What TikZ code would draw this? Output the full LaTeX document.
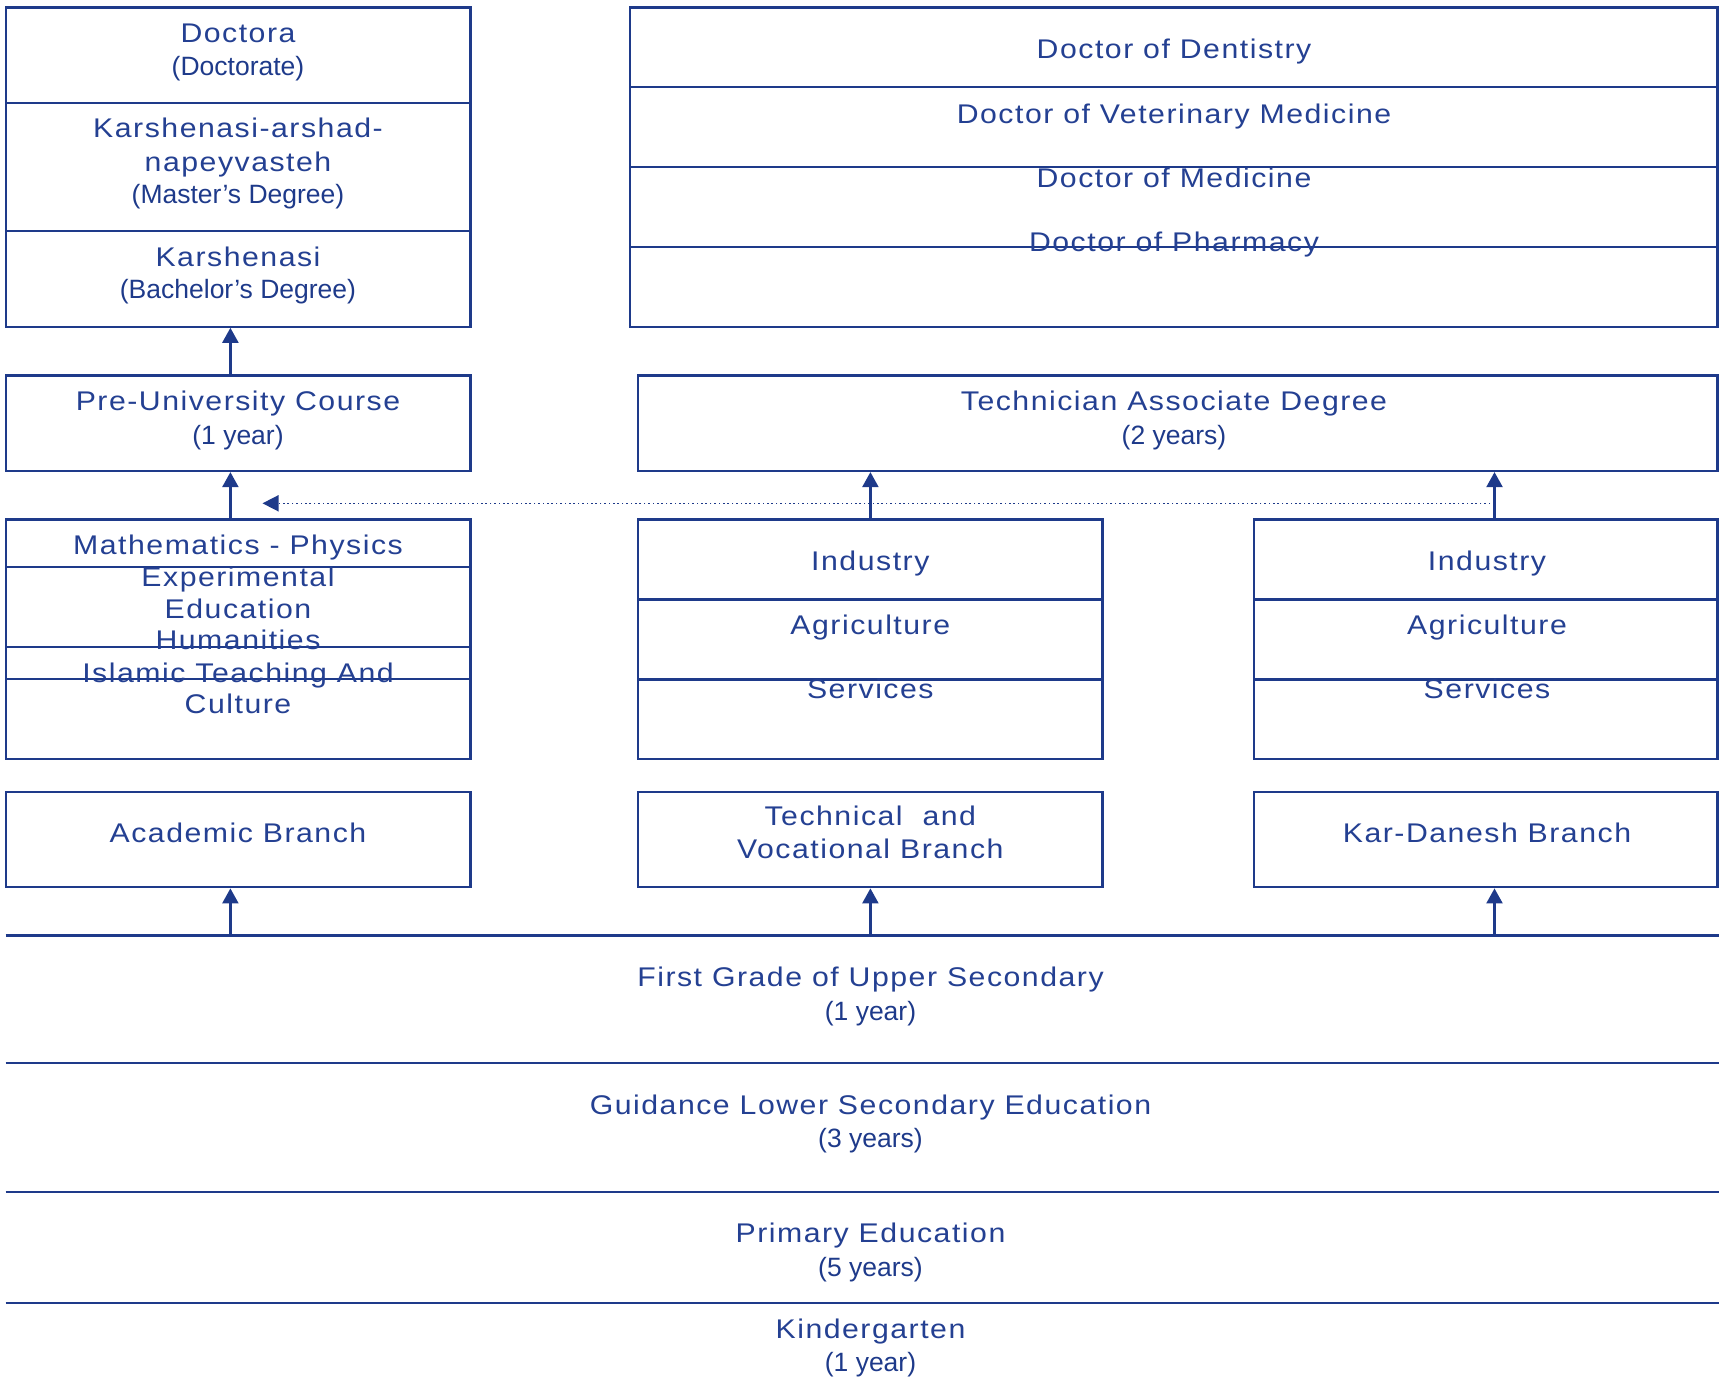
\documentclass[tikz,border=0pt]{standalone}
\usepackage{fontspec}
\setmainfont{Liberation Sans}
\newfontfamily\widefont{Liberation Sans}[FakeStretch=1.12,LetterSpace=5.6]
\usetikzlibrary{arrows.meta,fit}
\definecolor{navy}{RGB}{30,58,138}
\definecolor{navyt}{RGB}{36,64,146}
\tikzset{
  cell/.style={draw=navy, line width=1.1pt, inner sep=0pt},
  wl/.style={font=\widefont\fontsize{13.5}{16.5}\selectfont, text=navyt, inner sep=0pt, text height=9.67pt, text depth=0pt},
  pl/.style={font=\fontsize{13.25}{16.5}\selectfont, text=navy, inner sep=0pt, text height=9.5pt, text depth=0pt},
  arr/.style={draw=navy, line width=1.1pt, -{Triangle[width=8pt,length=7.5pt]}},
  dotarr/.style={draw=navy, line width=0.8pt, dash pattern=on 0.8pt off 1.4pt, -{Triangle[width=8pt,length=8pt]}},
  band/.style={draw=navy, line width=1.1pt}
}
\begin{document}
\begin{tikzpicture}[x=0.5pt,y=-0.5pt]
\useasboundingbox (0,0) rectangle (1719,1377);
% ---- cells ----
\node[cell, fit={(6,7.5) (470.5,103)}] (doc) {};
\node[cell, fit={(6,103) (470.5,231)}] (mas) {};
\node[cell, fit={(6,231) (470.5,326.7)}] (bach) {};
\node[cell, fit={(629.8,7.5) (1717.5,87.3)}] (dds) {};
\node[cell, fit={(629.8,87.3) (1717.5,167)}] (dvm) {};
\node[cell, fit={(629.8,167) (1717.5,247.3)}] (dmd) {};
\node[cell, fit={(629.8,247.3) (1717.5,327.3)}] (dph) {};
\node[cell, fit={(6,375.5) (470.5,471)}] (preu) {};
\node[cell, fit={(638,375.5) (1717.5,471)}] (tech) {};
\node[cell, fit={(6,519.5) (470.5,567.3)}] (ma1) {};
\node[cell, fit={(6,567.3) (470.5,647.3)}] (ma2) {};
\node[cell, fit={(6,647.3) (470.5,679.3)}] (ma3) {};
\node[cell, fit={(6,679.3) (470.5,759)}] (ma4) {};
\node[cell, fit={(638,519.5) (1102.5,599.5)}] (mg1) {};
\node[cell, fit={(638,599.5) (1102.5,679.5)}] (mg2) {};
\node[cell, fit={(638,679.5) (1102.5,759)}] (mg3) {};
\node[cell, fit={(1254,519.5) (1717.5,599.5)}] (rg1) {};
\node[cell, fit={(1254,599.5) (1717.5,679.5)}] (rg2) {};
\node[cell, fit={(1254,679.5) (1717.5,759)}] (rg3) {};
\node[cell, fit={(6,791.7) (470.5,887.3)}] (acad) {};
\node[cell, fit={(638,791.7) (1102.5,887.3)}] (tvb) {};
\node[cell, fit={(1254,791.7) (1717.5,887.3)}] (kdb) {};
% ---- level lines ----
\coordinate (L1a) at (5.7,935.5);  \coordinate (L1b) at (1719,935.5);
\coordinate (L2a) at (5.7,1063.3); \coordinate (L2b) at (1719,1063.3);
\coordinate (L3a) at (5.7,1191.7); \coordinate (L3b) at (1719,1191.7);
\coordinate (L4a) at (5.7,1303.3); \coordinate (L4b) at (1719,1303.3);
\draw[band] (L1a) -- (L1b);
\draw[band] (L2a) -- (L2b);
\draw[band] (L3a) -- (L3b);
\draw[band] (L4a) -- (L4b);
% ---- connectors ----
\coordinate (cx1) at (230.4,0);
\coordinate (cx2) at (870.4,0);
\coordinate (cx3) at (1494.5,0);
\draw[arr] (preu.north -| cx1) -- (bach.south -| cx1);
\draw[arr] (ma1.north -| cx1) -- (preu.south -| cx1);
\draw[arr] (mg1.north -| cx2) -- (tech.south -| cx2);
\draw[arr] (rg1.north -| cx3) -- (tech.south -| cx3);
\coordinate (dotS) at (1494.5,503.3);
\coordinate (dotE) at (262.5,503.3);
\draw[dotarr] (dotS) -- (dotE);
\coordinate (b1) at (230.4,935.5);
\coordinate (b2) at (870.4,935.5);
\coordinate (b3) at (1494.5,935.5);
\draw[arr] (b1) -- (acad.south -| b1);
\draw[arr] (b2) -- (tvb.south -| b2);
\draw[arr] (b3) -- (kdb.south -| b3);
% ---- texts: left column ----
\node[wl] (t1) at (238,33) {Doctora};
\node[pl] (t2) at (238,65.5) {(Doctorate)};
\node[wl] (t3) at (238,128) {Karshenasi-arshad-};
\node[wl] (t4) at (238,161.7) {napeyvasteh};
\node[pl] (t5) at (238,194) {(Master’s Degree)};
\node[wl] (t6) at (238,256.7) {Karshenasi};
\node[pl] (t7) at (238,289.3) {(Bachelor’s Degree)};
\node[wl] (t8) at (238,400.6) {Pre-University Course};
\node[pl] (t9) at (238,435) {(1 year)};
\node[wl] (t10) at (238,545) {Mathematics - Physics};
\node[wl] (t11) at (238,577) {Experimental};
\node[wl] (t12) at (238,609) {Education};
\node[wl] (t13) at (238,640) {Humanities};
\node[wl] (t14) at (238,672.7) {Islamic Teaching And};
\node[wl] (t15) at (238,704) {Culture};
\node[wl] (t16) at (238,832.7) {Academic Branch};
% ---- texts: top right ----
\node[wl] (u1) at (1174,49) {Doctor of Dentistry};
\node[wl] (u2) at (1174,113.5) {Doctor of Veterinary Medicine};
\node[wl] (u3) at (1174,177.8) {Doctor of Medicine};
\node[wl] (u4) at (1174,242) {Doctor of Pharmacy};
\node[wl] (u5) at (1174,400.7) {Technician Associate Degree};
\node[pl] (u6) at (1174,434.5) {(2 years)};
% ---- texts: middle group ----
\node[wl] (m1) at (870.3,561) {Industry};
\node[wl] (m2) at (870.3,625) {Agriculture};
\node[wl] (m3) at (870.3,689) {Services};
\node[wl] (m4) at (870.3,816.3) {Technical\ \ and};
\node[wl] (m5) at (870.3,849.3) {Vocational Branch};
% ---- texts: right group ----
\node[wl] (r1) at (1487,561) {Industry};
\node[wl] (r2) at (1487,625) {Agriculture};
\node[wl] (r3) at (1487,689) {Services};
\node[wl] (r4) at (1487,832.7) {Kar-Danesh Branch};
% ---- texts: bottom levels ----
\node[wl] (s1) at (870.5,977.3) {First Grade of Upper Secondary};
\node[pl] (s2) at (870.5,1011) {(1 year)};
\node[wl] (s3) at (870.5,1105) {Guidance Lower Secondary Education};
\node[pl] (s4) at (870.5,1138.3) {(3 years)};
\node[wl] (s5) at (870.5,1233.3) {Primary Education};
\node[pl] (s6) at (870.5,1266.7) {(5 years)};
\node[wl] (s7) at (870.5,1329.3) {Kindergarten};
\node[pl] (s8) at (870.5,1361.5) {(1 year)};
\end{tikzpicture}
\end{document}
